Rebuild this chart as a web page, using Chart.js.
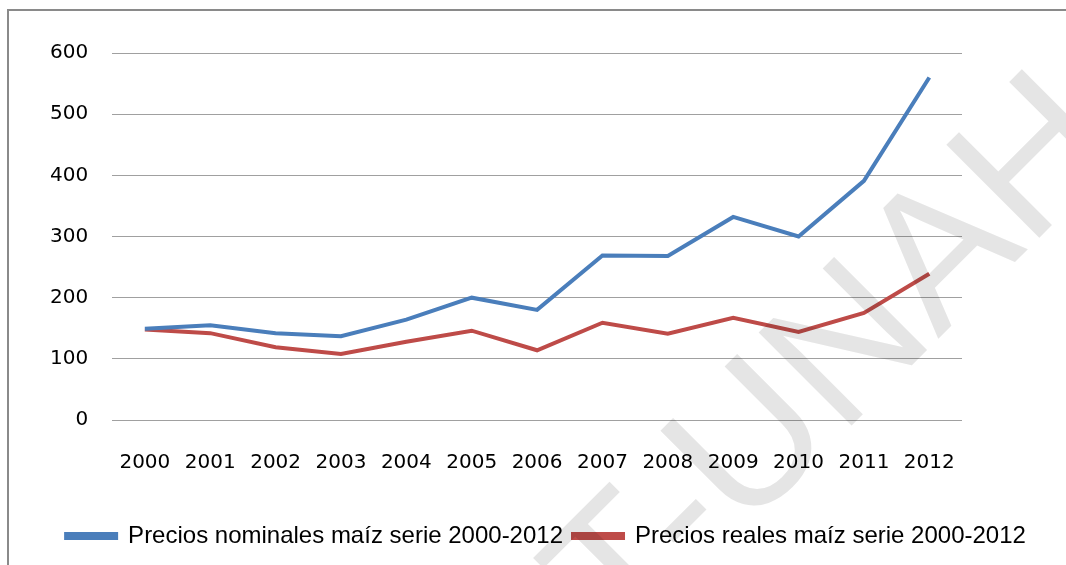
<!DOCTYPE html>
<html lang="es">
<head>
  <meta charset="UTF-8" />
  <title>Precios maíz 2000-2012</title>
  <script src="https://cdn.jsdelivr.net/npm/chart.js"></script>
  <style>
    html, body { margin: 0; padding: 0; background: #fff; overflow: hidden; }
    .marco {
      position: absolute; left: 7px; top: 9px; width: 1100px; height: 600px;
      border-left: 2px solid #8a8a8a; border-top: 2px solid #8a8a8a;
    }
    .grafico { position: absolute; left: 0; top: 0; width: 1066px; height: 565px; }
  </style>
</head>
<body>
  <div class="marco"></div>
  <div class="grafico">
    <canvas id="myChart" width="1066" height="565"></canvas>
  </div>
<script>
  // datos
  const anios = ['2000', '2001', '2002', '2003', '2004', '2005', '2006',
    '2007', '2008', '2009', '2010', '2011', '2012'];
  const preciosNominales = [149, 155, 142, 137, 164, 200, 180, 269, 268, 332, 300, 391, 560];
  const preciosReales = [148, 142, 119, 108, 128, 146, 114, 159, 141, 167, 144, 175, 239];
  const marcasY = [0, 100, 200, 300, 400, 500, 600];

  // marca de agua gris en diagonal
  const marcaAgua = {
    id: 'marcaAgua',
    afterDraw: function (chart) {
      const ctx = chart.ctx;
      ctx.save();
      ctx.globalCompositeOperation = 'multiply';
      ctx.translate(623, 654);
      ctx.rotate(-Math.PI / 4);
      ctx.font = '191px "Liberation Sans"';
      ctx.textBaseline = 'alphabetic';
      ctx.fillStyle = 'rgb(229, 229, 229)';
      ctx.fillText('T-UNAH', 0, 0);
      ctx.restore();
    }
  };

  const dados = {
    labels: anios,
    datasets: [{
      label: 'Precios nominales maíz serie 2000-2012',
      data: preciosNominales,
      borderColor: '#4a7ebb',
      backgroundColor: '#4a7ebb',
      borderWidth: 4,
      pointRadius: 0,
      tension: 0,
      fill: false
    },
    {
      label: 'Precios reales maíz serie 2000-2012',
      data: preciosReales,
      borderColor: '#be4b48',
      backgroundColor: '#be4b48',
      borderWidth: 4,
      pointRadius: 0,
      tension: 0,
      fill: false
    }]
  };

  const config = {
    type: 'line',
    data: dados,
    plugins: [marcaAgua],
    options: {
      responsive: false,
      animation: false,
      layout: { padding: { left: 26, right: 0, top: 53, bottom: 7 } },
      plugins: {
        tooltip: { enabled: false },
        legend: {
          position: 'bottom',
          labels: {
            color: '#000',
            font: { family: 'Liberation Sans', size: 24 },
            boxWidth: 50,
            boxHeight: 4,
            padding: 10
          }
        }
      },
      scales: {
        x: {
          offset: true,
          grid: { display: false, drawTicks: false, offset: true },
          border: { display: false },
          ticks: { color: '#000', font: { family: 'DejaVu Sans', size: 20 }, padding: 31, maxRotation: 0 },
          afterFit: function (eixo) { eixo.height += 8; }
        },
        y: {
          min: 0,
          max: 600,
          afterBuildTicks: function (eixo) {
            eixo.ticks = marcasY.map(function (v) { return { value: v }; });
          },
          grid: { color: '#a0a0a0', lineWidth: 1, drawTicks: false },
          border: { display: false },
          ticks: { color: '#000', font: { family: 'DejaVu Sans', size: 20 }, padding: 24 }
        },
        // eixo vazio so para deixar o espaco branco a direita
        direita: {
          position: 'right',
          grid: { display: false, drawTicks: false },
          border: { display: false },
          ticks: { display: false },
          afterFit: function (eixo) { eixo.width = 104; }
        }
      }
    }
  };

  let myChart = new Chart(document.getElementById('myChart'), config);
</script>
</body>
</html>
